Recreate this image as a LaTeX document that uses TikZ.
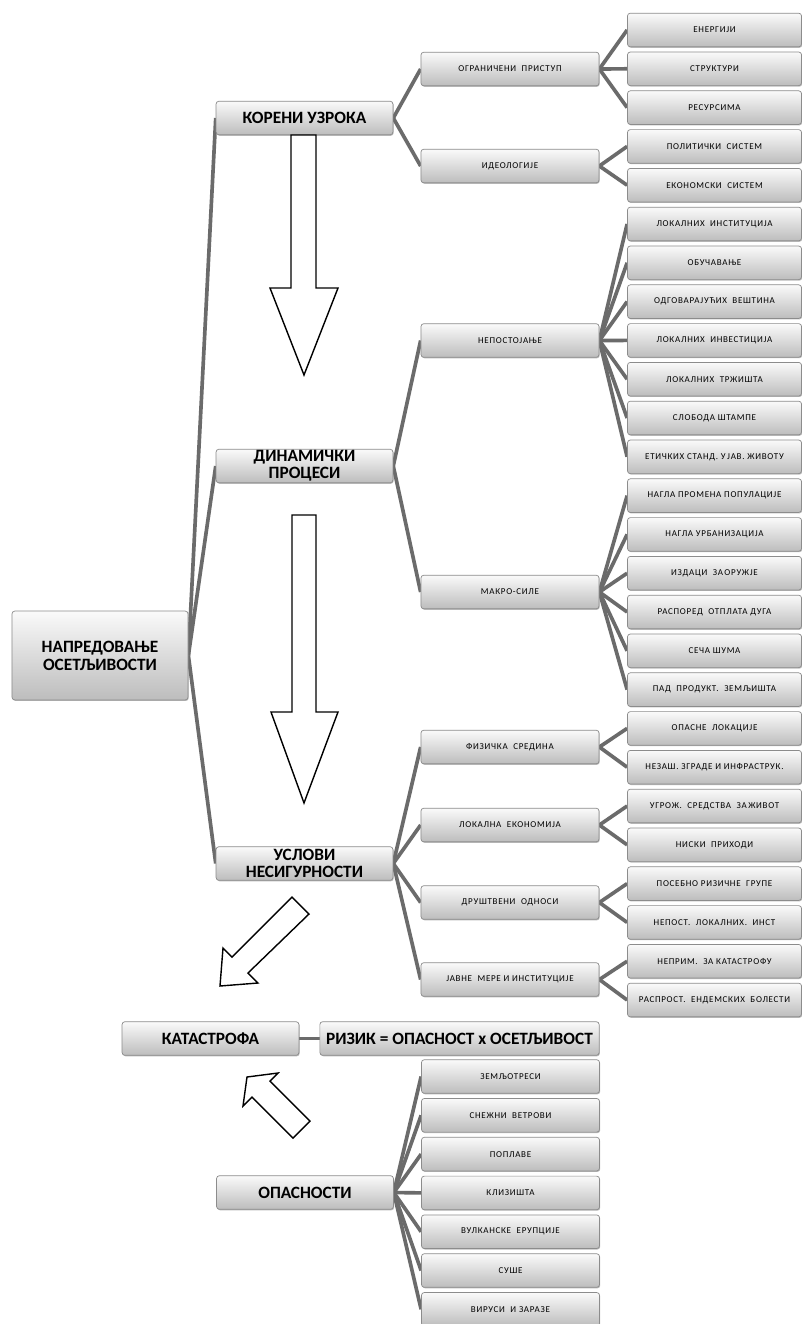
\documentclass[tikz,border=0pt]{standalone}
\usepackage{fontspec}
\setmainfont{Carlito}
\newfontfamily\smallfont[LetterSpace=8]{Carlito}
\usetikzlibrary{shadows,backgrounds}
\tikzset{
  box/.style={rectangle,rounded corners=2pt,draw=black!45,line width=0.5pt,
    top color=black!2,bottom color=black!26,inner sep=0pt,align=center,
    drop shadow={shadow xshift=0.5pt,shadow yshift=-0.7pt,opacity=0.45,fill=black!60}},
  headbox/.style={box,font=\fontsize{12.3}{11.8}\selectfont\bfseries,minimum width=4.42cm,minimum height=0.84cm},
  rootbox/.style={headbox,font=\fontsize{12.3}{12.8}\selectfont\bfseries,minimum width=4.4cm,minimum height=2.22cm},
  midbox/.style={box,font=\smallfont\fontsize{6.4}{7}\selectfont,minimum width=4.45cm,minimum height=0.84cm},
  leafbox/.style={midbox,minimum width=4.35cm},
  linkline/.style={line width=2.6pt,black!58},
  hollowarrow/.style={draw=black,line width=1pt,fill=white,line join=miter},
}
\begin{document}
\begin{tikzpicture}[x=0.025cm,y=-0.025cm]
  \useasboundingbox (0,0) rectangle (802,1324);
  % main column
  \node[rootbox] (napr) at (100,655.5) {НАПРЕДОВАЊЕ\\ОСЕТЉИВОСТИ};
  \node[headbox] (koreni) at (304.5,118) {КОРЕНИ УЗРОКА};
  \node[headbox] (dinam) at (304.5,466) {ДИНАМИЧКИ\\ПРОЦЕСИ};
  \node[headbox] (uslovi) at (304.5,863.5) {УСЛОВИ\\НЕСИГУРНОСТИ};
  \node[headbox] (katas) at (210.5,1038.5) {КАТАСТРОФА};
  \node[headbox,minimum width=6.98cm] (rizik) at (459.5,1038.5) {РИЗИК = ОПАСНОСТ x ОСЕТЉИВОСТ};
  \node[headbox] (opas) at (305,1192.5) {ОПАСНОСТИ};
  % second level
  \node[midbox] (ogran) at (510,69) {ОГРАНИЧЕНИ\ \ ПРИСТУП};
  \node[midbox] (ideol) at (510,166) {ИДЕОЛОГИЈЕ};
  \node[midbox] (nepos) at (510,340.5) {НЕПОСТОЈАЊЕ};
  \node[midbox] (makro) at (510,592) {МАКРО-СИЛЕ};
  \node[midbox] (fizic) at (510,747) {ФИЗИЧКА\ \ СРЕДИНА};
  \node[midbox] (lokek) at (510,825) {ЛОКАЛНА\ \ ЕКОНОМИЈА};
  \node[midbox] (drust) at (510,902.5) {ДРУШТВЕНИ\ \ ОДНОСИ};
  \node[midbox] (javne) at (510,979.5) {ЈАВНЕ\ \ МЕРЕ\ И\ ИНСТИТУЦИЈЕ};
  % third level, evenly spaced
  \foreach \t [count=\i] in {ЕНЕРГИЈИ,СТРУКТУРИ,РЕСУРСИМА,ПОЛИТИЧКИ\ \ СИСТЕМ,
      ЕКОНОМСКИ\ \ СИСТЕМ,ЛОКАЛНИХ\ \ ИНСТИТУЦИЈА,ОБУЧАВАЊЕ,ОДГОВАРАЈУЋИХ\ \ ВЕШТИНА,
      ЛОКАЛНИХ\ \ ИНВЕСТИЦИЈА,ЛОКАЛНИХ\ \ ТРЖИШТА,СЛОБОДА\ ШТАМПЕ,
      ЕТИЧКИХ\ СТАНД.\ У\,ЈАВ.\ ЖИВОТУ,НАГЛА\ ПРОМЕНА\ ПОПУЛАЦИЈЕ,НАГЛА\ УРБАНИЗАЦИЈА,
      ИЗДАЦИ\ \ ЗА\,ОРУЖЈЕ,РАСПОРЕД\ \ ОТПЛАТА\ ДУГА,СЕЧА\ ШУМА,ПАД\ \ ПРОДУКТ.\ \ ЗЕМЉИШТА,
      ОПАСНЕ\ \ ЛОКАЦИЈЕ,НЕЗАШ.\ ЗГРАДЕ\ И\ ИНФРАСТРУК.,УГРОЖ.\ \ СРЕДСТВА\ \ ЗА\,ЖИВОТ,
      НИСКИ\ \ ПРИХОДИ,ПОСЕБНО\ РИЗИЧНЕ\ \ ГРУПЕ,НЕПОСТ.\ \ ЛОКАЛНИХ.\ \ ИНСТ,
      НЕПРИМ.\ \ ЗА\ КАТАСТРОФУ,РАСПРОСТ.\ \ ЕНДЕМСКИХ\ \ БОЛЕСТИ}
    \node[leafbox] (r\i) at (714.5,{30+38.8*(\i-1)}) {\t};
  \foreach \t [count=\i] in {ЗЕМЉОТРЕСИ,СНЕЖНИ\ \ ВЕТРОВИ,ПОПЛАВЕ,КЛИЗИШТА,
      ВУЛКАНСКЕ\ \ ЕРУПЦИЈЕ,СУШЕ,ВИРУСИ\ \ И\ ЗАРАЗЕ}
    \node[midbox] (h\i) at (510.5,{1076.5+38.8*(\i-1)}) {\t};
  % connectors
  \begin{scope}[on background layer]
    \fill[white] (0,0) rectangle (802,1324);
    \foreach \n in {koreni,dinam,uslovi} \draw[linkline] (napr.east) -- (\n.west);
    \foreach \n in {ogran,ideol} \draw[linkline] (koreni.east) -- (\n.west);
    \foreach \n in {nepos,makro} \draw[linkline] (dinam.east) -- (\n.west);
    \foreach \n in {fizic,lokek,drust,javne} \draw[linkline] (uslovi.east) -- (\n.west);
    \foreach \i in {1,2,3} \draw[linkline] (ogran.east) -- (r\i.west);
    \foreach \i in {4,5} \draw[linkline] (ideol.east) -- (r\i.west);
    \foreach \i in {6,...,12} \draw[linkline] (nepos.east) -- (r\i.west);
    \foreach \i in {13,...,18} \draw[linkline] (makro.east) -- (r\i.west);
    \foreach \i in {19,20} \draw[linkline] (fizic.east) -- (r\i.west);
    \foreach \i in {21,22} \draw[linkline] (lokek.east) -- (r\i.west);
    \foreach \i in {23,24} \draw[linkline] (drust.east) -- (r\i.west);
    \foreach \i in {25,26} \draw[linkline] (javne.east) -- (r\i.west);
    \foreach \i in {1,...,7} \draw[linkline] (opas.east) -- (h\i.west);
    \draw[linkline] (katas.east) -- (rizik.west);
  \end{scope}
  % hollow block arrows
  \draw[hollowarrow] (291,135) -- (291,288) -- (270,288) -- (304,375) -- (338,288) -- (316,288) -- (316,135) -- cycle;
  \draw[hollowarrow] (292,515) -- (292,712) -- (271,712) -- (304,803) -- (338,712) -- (316,712) -- (316,515) -- cycle;
  \draw[hollowarrow] (292,897) -- (232,957) -- (223,948) -- (220,986) -- (258,983) -- (248,973) -- (309,914) -- cycle;
  \draw[hollowarrow] (293,1138) -- (252,1097) -- (243,1106) -- (247,1077) -- (278,1073) -- (270,1081) -- (310,1121) -- cycle;
\end{tikzpicture}
\end{document}
